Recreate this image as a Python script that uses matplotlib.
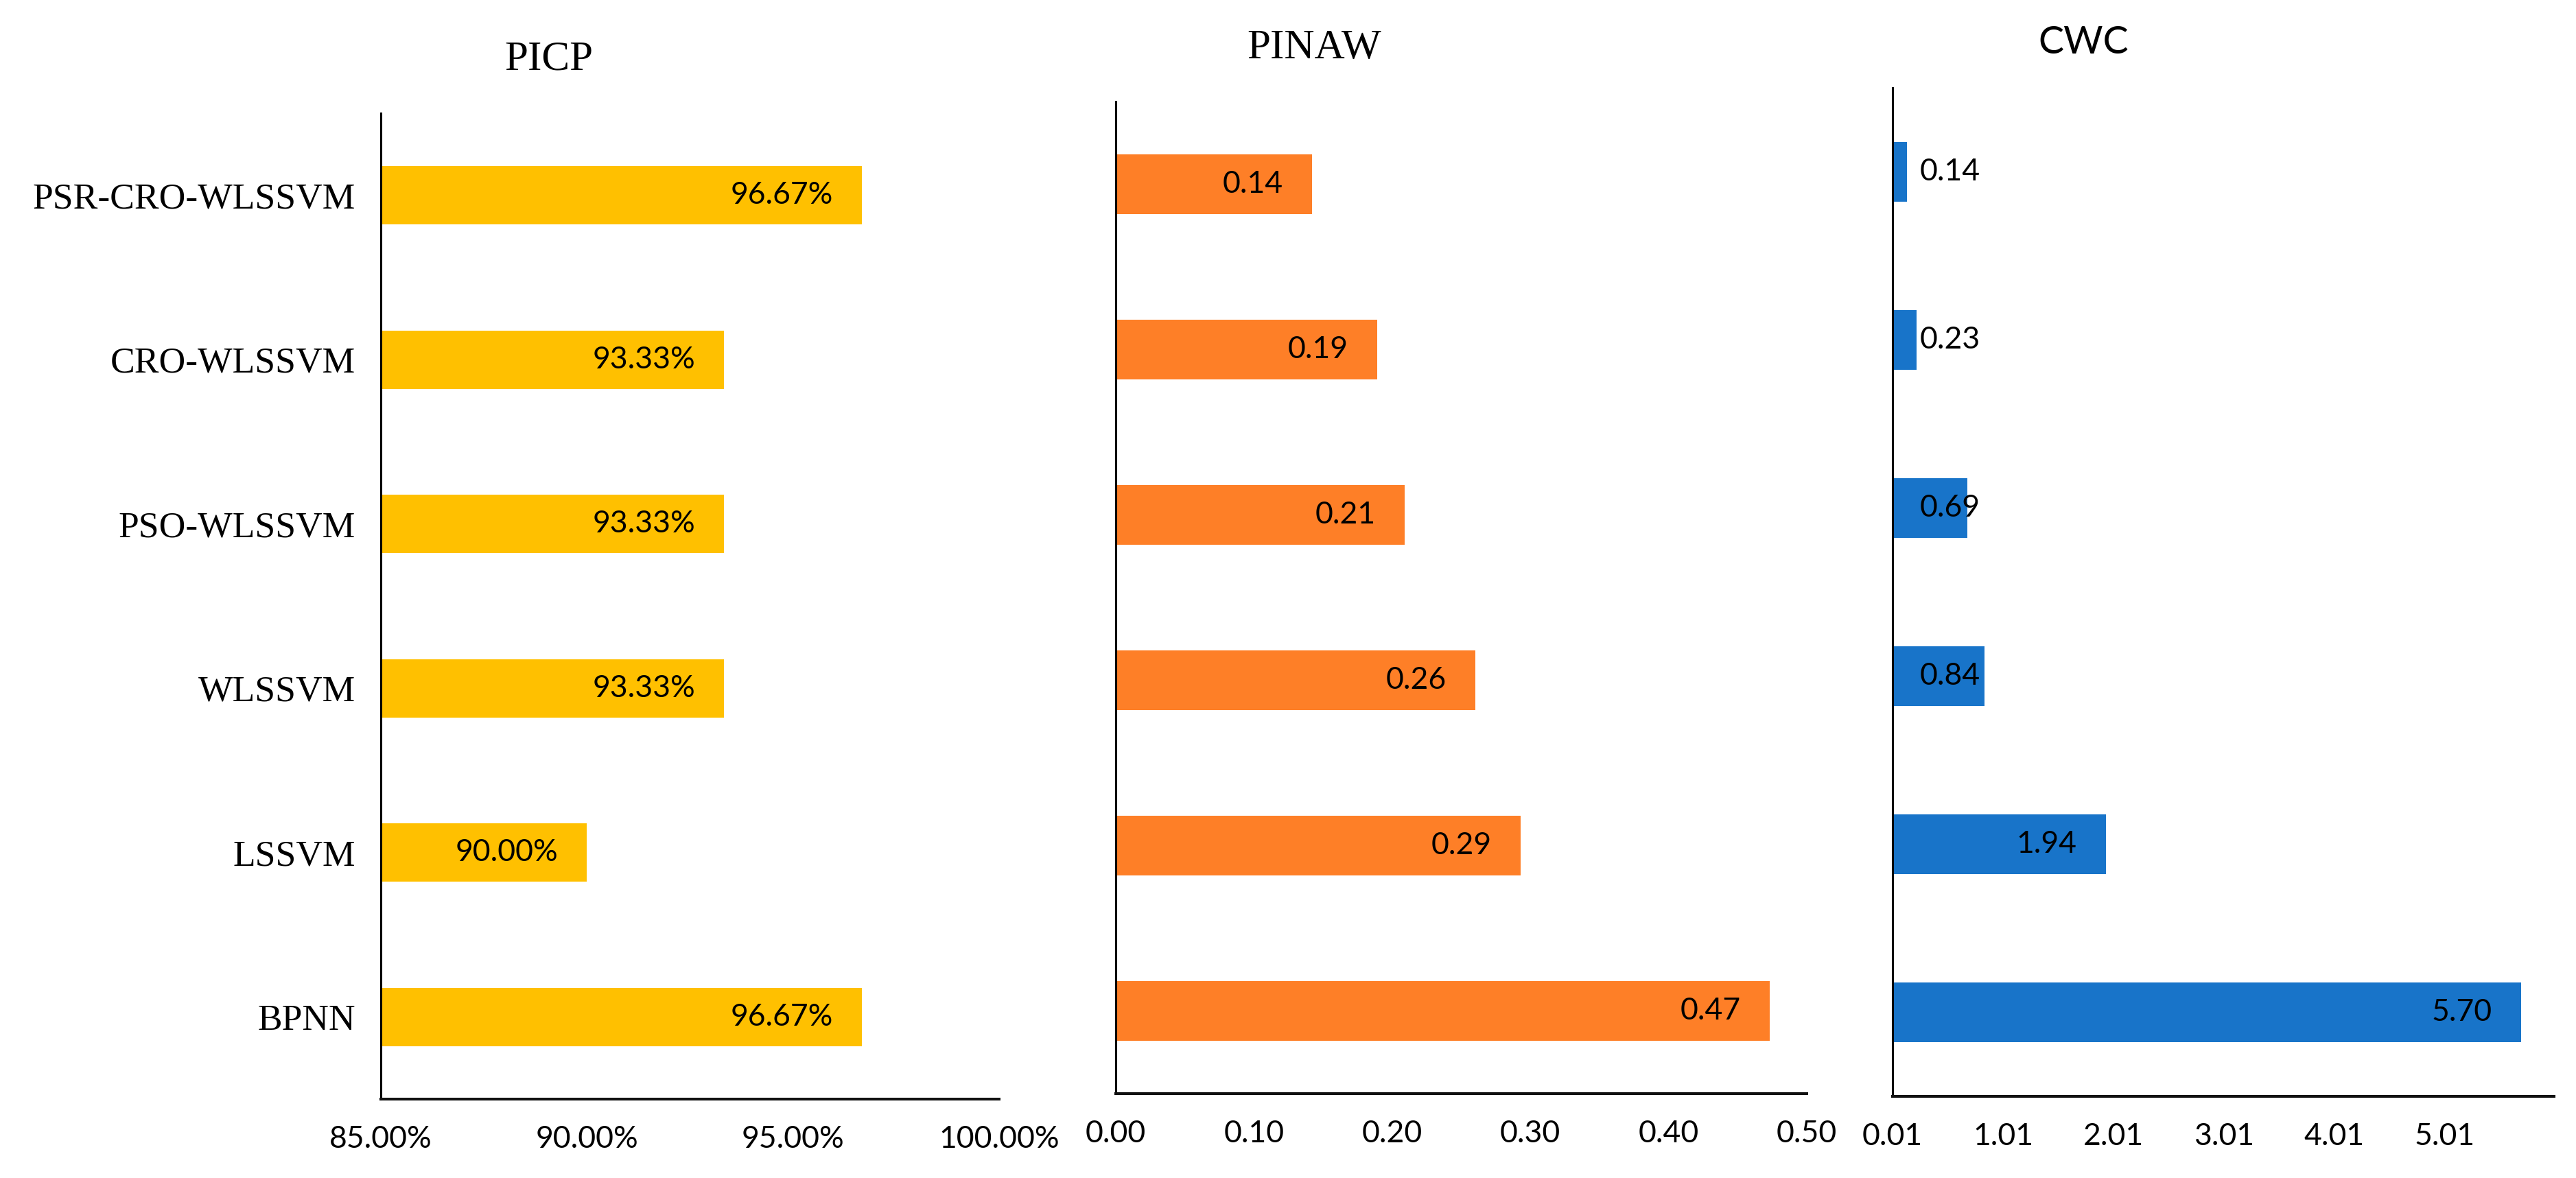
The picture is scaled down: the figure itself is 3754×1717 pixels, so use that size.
import matplotlib.pyplot as plt
import numpy as np

# data (bottom to top, as drawn)
models = ['BPNN', 'LSSVM', 'WLSSVM', 'PSO-WLSSVM', 'CRO-WLSSVM', 'PSR-CRO-WLSSVM']
picp = [96.67, 90.00, 93.33, 93.33, 93.33, 96.67]
pinaw = [0.473, 0.293, 0.260, 0.209, 0.189, 0.142]
cwc = [5.70, 1.94, 0.84, 0.69, 0.23, 0.14]

picp_ticks = [85, 90, 95, 100]
pinaw_ticks = [0.0, 0.1, 0.2, 0.3, 0.4, 0.5]
cwc_ticks = [0.01, 1.01, 2.01, 3.01, 4.01, 5.01]

W, H = 3754, 1717
DPI = 100
PX = 72.0 / DPI  # points per pixel

serif = 'Liberation Serif'
sans = 'Lato'

fig = plt.figure(figsize=(W / DPI, H / DPI), dpi=DPI)
fig.patch.set_facecolor('white')


def make_ax(x0, x1, y0, y1):
    # pixel box -> figure fraction
    return fig.add_axes([x0 / W, 1 - y1 / H, (x1 - x0) / W, (y1 - y0) / H])


# panel boxes in pixels: left, right, top, bottom
panels = [
    dict(box=(555, 1456, 165, 1602), vals=picp, col='#FFC000', xlim=(85, 100),
         ticks=picp_ticks, fmt='{:.2f}%', h=0.355, names=True),
    dict(box=(1626, 2633, 148, 1594), vals=pinaw, col='#FE7F27', xlim=(0, 0.5),
         ticks=pinaw_ticks, fmt='{:.2f}', h=0.365, names=False),
    dict(box=(2758, 3722, 128, 1598), vals=cwc, col='#1874C9', xlim=(0.01, 6.0),
         ticks=cwc_ticks, fmt='{:.2f}', h=0.355, names=False),
]

fig.canvas.draw()
renderer = fig.canvas.get_renderer()

for p in panels:
    x0, x1, y0, y1 = p['box']
    ax = make_ax(x0, x1, y0, y1)
    y = np.arange(len(models))
    left = p['xlim'][0]
    widths = [v - left for v in p['vals']]
    ax.barh(y, widths, left=left, height=p['h'], color=p['col'], zorder=2)
    ax.set_xlim(*p['xlim'])
    ax.set_ylim(-0.5, len(models) - 0.5)

    ax.set_xticks(p['ticks'])
    ax.set_xticklabels([p['fmt'].format(t) for t in p['ticks']],
                       fontfamily=sans, fontsize=32)
    if p['names']:
        ax.set_yticks(y)
        ax.set_yticklabels(models, fontfamily=serif, fontsize=38.5)
    else:
        ax.set_yticks([])
    ax.tick_params(axis='both', length=0)
    ax.tick_params(axis='x', pad=27)
    ax.tick_params(axis='y', pad=26.5)

    for s in ['top', 'right']:
        ax.spines[s].set_visible(False)
    ax.spines['left'].set_linewidth(2.2)
    ax.spines['left'].set_color('black')
    ax.spines['bottom'].set_linewidth(2.9)
    ax.spines['bottom'].set_color('#111111')

    # data labels: inside end, pushed right when the bar is too short
    for yi, v in zip(y, p['vals']):
        txt = p['fmt'].format(v)
        t = ax.annotate(txt, xy=(v, yi), xytext=(-42 * PX, 0), textcoords='offset points',
                        ha='right', va='center', fontfamily=sans, fontsize=32, zorder=3)
        bb = t.get_window_extent(renderer)
        ax_left_px = ax.transData.transform((left, 0))[0]
        if bb.x0 < ax_left_px + 40:
            t.remove()
            ax.annotate(txt, xy=(left, yi), xytext=(40 * PX, 0), textcoords='offset points',
                        ha='left', va='center', fontfamily=sans, fontsize=32, zorder=3)

# titles
fig.text(800 / W, 1 - 87 / H, 'PICP', ha='center', va='center', fontfamily=serif, fontsize=44)
fig.text(1915 / W, 1 - 70 / H, 'PINAW', ha='center', va='center', fontfamily=serif, fontsize=44)
fig.text(3036 / W, 1 - 63 / H, 'CWC', ha='center', va='center', fontfamily=sans, fontsize=40)

fig.savefig('out.png', dpi=DPI, facecolor='white')
